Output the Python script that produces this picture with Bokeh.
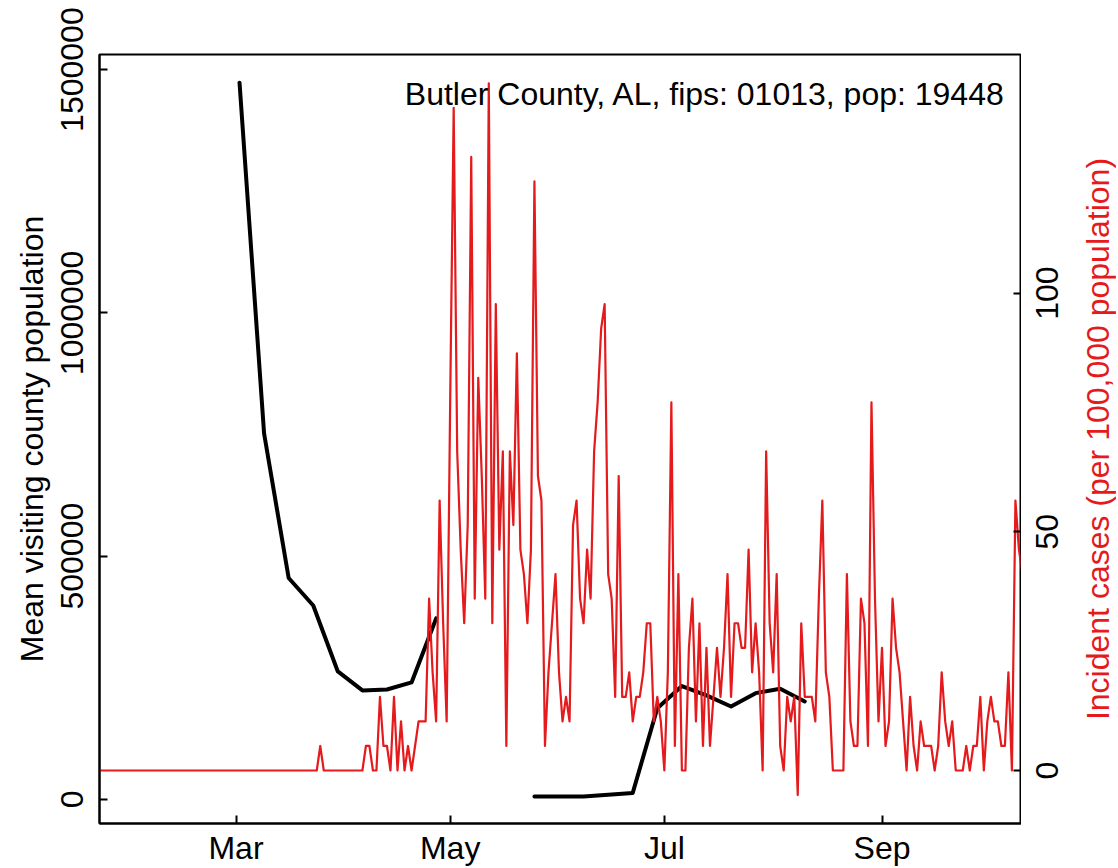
import math
import numpy as np
import pandas as pd
from bokeh.plotting import figure
from bokeh.layouts import row
from bokeh.models import (Range1d, LinearAxis, FixedTicker, BasicTickFormatter,
                          DatetimeTickFormatter, Label)
from bokeh.core.properties import value
from bokeh.embed import file_html
from bokeh.resources import INLINE

# ---------------- data ----------------
COUNTY = "Butler County"
STATE = "AL"
FIPS = "01013"
POP = 19448

# daily incident case counts, starting 2020-01-22
case_start = "2020-01-22"
daily_cases = (
    [0] * 63 + [1] + [0] * 12 +
    [1, 1, 0, 0, 3, 1, 1, 0, 3, 0,
     2, 0, 1, 0, 1, 2, 2, 2, 7, 4,
     2, 11, 6, 2, 15, 27, 13, 9, 6, 10,
     25, 7, 16, 12, 7, 28, 6, 19, 9, 13,
     1, 13, 10, 17, 9, 8, 6, 9, 24, 12,
     11, 1, 4, 6, 8, 4, 2, 3, 2, 10,
     11, 7, 6, 9, 7, 13, 15, 18, 19, 8,
     7, 3, 12, 3, 3, 4, 2, 3, 3, 4,
     6, 6, 2, 3, 2, 0, 4, 15, 1, 8,
     0, 0, 5, 7, 2, 6, 1, 5, 1, 3,
     5, 3, 5, 8, 3, 6, 6, 5, 5, 9,
     4, 6, 4, 0, 13, 6, 4, 8, 1, 0,
     3, 2, 3, -1, 6, 3, 3, 3, 2, 7,
     11, 4, 3, 0, 0, 0, 0, 8, 2, 1,
     1, 7, 6, 1, 15, 7, 2, 5, 1, 2,
     7, 5, 4, 2, 0, 3, 1, 0, 2, 1,
     1, 1, 0, 1, 4, 2, 1, 2, 0, 0,
     0, 1, 0, 1, 1, 3, 0, 2, 3, 2,
     2, 1, 1, 4, 0, 11, 9, 8]
)

# weekly mean visiting county population (NaN = missing week)
mob_start = "2020-03-02"
mob_values = [1473000, 752000, 455000, 398600, 263000, 224000, 226000, 240400,
              372000, np.nan, np.nan, np.nan, 6000, 6000, 6000, 9500, 13400,
              187400, 233000, 213700, 191000, 218400, 227500, 201400]

x_ticks = ["2020-03-01", "2020-05-01", "2020-07-01", "2020-09-01"]
left_ticks = [0, 500000, 1000000, 1500000]
right_ticks = [0, 50, 100]

left_title = "Mean visiting county population"
right_title = "Incident cases (per 100,000 population)"

# ---------------- derived ----------------
case_dates = pd.date_range(case_start, periods=len(daily_cases), freq="D")
incidence = np.array(daily_cases, dtype=float) * 100000.0 / POP
mob_dates = pd.date_range(mob_start, periods=len(mob_values), freq="7D")
title_text = f"{COUNTY}, {STATE}, fips: {FIPS}, pop: {POP}"

def ms(ts):
    return pd.Timestamp(ts).value / 1e6

DAY = 86400000.0
mar1 = ms("2020-03-01")
x_start = mar1 - 38.88 * DAY
x_end = mar1 + 223.73 * DAY
Y_LEFT = (-49500, 1531000)
Y_RIGHT = (-11.1, 150.0)

RED = "#E41A1C"
FONT = "Liberation Sans"
FS = "32px"

FRAME_W, FRAME_H = 922, 769
TOP, BOTTOM = 54, 45
SIDE_W = 95

p = figure(frame_width=FRAME_W, frame_height=FRAME_H,
           min_border_left=99, min_border_right=0,
           min_border_top=TOP, min_border_bottom=BOTTOM,
           x_axis_type="datetime",
           x_range=Range1d(x_start, x_end),
           y_range=Range1d(*Y_LEFT),
           output_backend="svg", toolbar_location=None,
           background_fill_color="white", border_fill_color="white")
p.extra_y_ranges = {"inc": Range1d(*Y_RIGHT)}

p.xgrid.visible = False
p.ygrid.visible = False
p.outline_line_color = "black"
p.outline_line_width = 2
p.outline_line_alpha = 1.0

# black mobility line
p.line(mob_dates, mob_values, color="black", line_width=4,
       line_cap="round", line_join="round")
# red incidence line
p.line(case_dates, incidence, color=RED, line_width=2.2, y_range_name="inc",
       line_join="round")

def style_axis(ax):
    ax.axis_line_color = "black"
    ax.axis_line_width = 2
    ax.major_tick_line_color = "black"
    ax.major_tick_line_width = 2
    ax.major_tick_in = 8
    ax.major_tick_out = 0
    ax.minor_tick_line_color = None
    ax.major_label_text_font = FONT
    ax.major_label_text_font_size = FS
    ax.major_label_text_color = "black"
    ax.axis_label_text_font = FONT
    ax.axis_label_text_font_size = FS
    ax.axis_label_text_font_style = "normal"
    ax.axis_label_text_color = "black"

# x axis
xa = p.xaxis[0]
style_axis(xa)
xa.ticker = FixedTicker(ticks=[ms(t) for t in x_ticks])
xa.formatter = DatetimeTickFormatter(months="%b", days="%b", hours="%b",
                                     years="%b", minutes="%b", seconds="%b",
                                     milliseconds="%b", microseconds="%b")
xa.major_label_standoff = 6

# left axis
ya = p.yaxis[0]
style_axis(ya)
ya.ticker = FixedTicker(ticks=left_ticks)
ya.formatter = BasicTickFormatter(use_scientific=False)
ya.major_label_orientation = "vertical"
ya.major_label_standoff = 16
ya.axis_label = left_title
ya.axis_label_standoff = 9

# right axis: tick marks only (its labels are set in the side panel below,
# reading bottom-to-top as in the original)
ra = LinearAxis(y_range_name="inc")
style_axis(ra)
ra.ticker = FixedTicker(ticks=right_ticks)
ra.major_label_text_color = None
ra.major_label_text_font_size = "0px"
ra.major_label_standoff = 0
p.add_layout(ra, "right")

# county annotation
p.add_layout(Label(x=x_end, y=Y_LEFT[1], x_offset=-16, y_offset=-39,
                   text=title_text, text_align="right",
                   text_baseline="alphabetic", text_font=FONT,
                   text_font_size=FS, text_color="black"))

# ---------------- right side panel (labels of the right axis) ----------------
p2 = figure(frame_width=SIDE_W, frame_height=FRAME_H,
            min_border_left=0, min_border_right=0,
            min_border_top=TOP, min_border_bottom=BOTTOM,
            x_range=Range1d(0, SIDE_W), y_range=Range1d(*Y_RIGHT),
            x_axis_location=None, y_axis_location=None,
            output_backend="svg", toolbar_location=None,
            background_fill_color="white", border_fill_color="white")
p2.outline_line_color = None
p2.grid.visible = False

p2.text(x=[14] * len(right_ticks), y=right_ticks,
        text=[str(t) for t in right_ticks], angle=math.pi / 2,
        text_align="center", text_baseline="top",
        text_font=value(FONT), text_font_size=FS, text_color="black")
p2.text(x=[58], y=[(Y_RIGHT[0] + Y_RIGHT[1]) / 2], text=[right_title],
        angle=math.pi / 2, text_align="center", text_baseline="top",
        text_font=value(FONT), text_font_size=FS, text_color=RED)

layout = row(p, p2, spacing=0)
open("out.html", "w").write(file_html(layout, INLINE))
